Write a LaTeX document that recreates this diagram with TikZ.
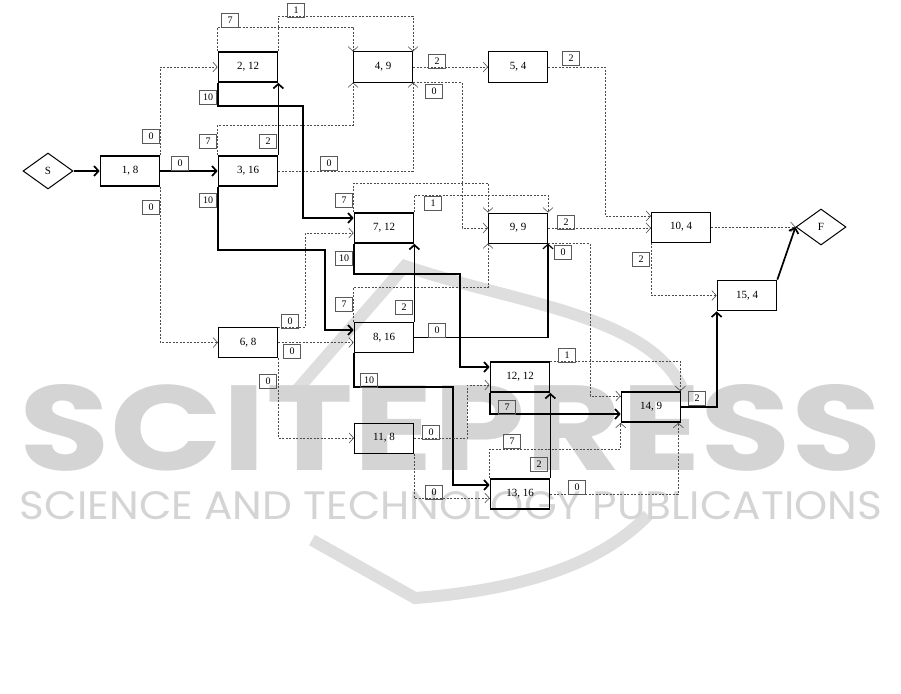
\documentclass[tikz,border=0pt]{standalone}
\usepackage{fontspec}
\usepackage{graphicx}
\setmainfont{Liberation Serif}
\newfontfamily\wmfont{Poppins}
\usetikzlibrary{arrows.meta,shapes.geometric,calc}
\begin{document}
\begin{tikzpicture}[x=1pt,y=-1pt,
  box/.style={draw, line width=1pt, minimum width=59pt, minimum height=30pt, inner sep=0pt, font=\fontsize{11}{11}\selectfont},
  cbox/.style={box, line width=1.7pt},
  dia/.style={draw, diamond, line width=1pt, minimum width=50pt, minimum height=36pt, inner sep=0pt, font=\fontsize{11}{11}\selectfont},
  lbl/.style={draw=black!65, line width=0.6pt, minimum width=17pt, minimum height=14pt, inner sep=0pt, font=\fontsize{10}{10}\selectfont},
  dsh/.style={draw=black!70, line width=0.6pt, dash pattern=on 2pt off 1.5pt, -{Straight Barb[length=4.5pt,width=10pt]}},
  crit/.style={draw=black, line width=1.7pt, -{Straight Barb[length=4.5pt,width=10pt]}},
  wm/.style={text=black!17, inner sep=0pt}
]
\useasboundingbox (0,0) rectangle (901,693);
% watermark
\draw[black!13, line width=12pt] (290,398) -- (405,266) .. controls (520,305) and (655,315) .. (685,395);
\draw[black!13, line width=12pt] (312,540) -- (415,598) .. controls (520,590) and (600,565) .. (648,515);
\node[wm] (wma) at (451,428) {\resizebox{862pt}{86pt}{\wmfont\bfseries SCITEPRESS}};
\node[wm] (wmb) at (451,506) {\resizebox{862pt}{28pt}{\wmfont SCIENCE AND TECHNOLOGY PUBLICATIONS}};

% nodes
\node[dia] (S) at (48,171) {S};
\node[cbox] (n1) at (130,171) {1, 8};
\node[cbox] (n2) at (248,67) {2, 12};
\node[cbox] (n3) at (248,171) {3, 16};
\node[box] (n4) at (383,67) {4, 9};
\node[box] (n5) at (518,67) {5, 4};
\node[box] (n6) at (248,342.5) {6, 8};
\node[cbox] (n7) at (384,228) {7, 12};
\node[cbox] (n8) at (384,337.5) {8, 16};
\node[box] (n9) at (518,228) {9, 9};
\node[box] (n10) at (681,227) {10, 4};
\node[box] (n11) at (384,438) {11, 8};
\node[cbox] (n12) at (520,377) {12, 12};
\node[cbox] (n13) at (520,494) {13, 16};
\node[cbox] (n14) at (651,407) {14, 9};
\node[cbox] (n15) at (747,295.5) {15, 4};
\node[dia] (F) at (821,227) {F};

% connectors
\draw[crit] (S) -- (n1);
\draw[crit] (n1) -- (n3);
\draw[dsh] (n1.north east) |- (n2.west);
\draw[dsh] (n1.south east) |- (n6.west);
\draw[dsh] (n2.north west) |- (n4.north west |- 0,27) -- (n4.north west);
\draw[dsh] (n2.north east) |- (n4.north east |- 0,16) -- (n4.north east);
\draw[dsh] (n3.north west) |- (n4.south west |- 0,125) -- (n4.south west);
\draw[dsh] (n3.east) -| (n4.south east);
\draw[crit] (n3.north east) -- (n2.south east);
\draw[crit] (n2.south west) |- (303,106) |- (n7.west |- 0,218);
\draw[crit] (n3.south west) |- (325,250) |- (n8.west |- 0,330);
\draw[dsh] (n4.east) -- (n5.west);
\draw[dsh] (n4.south east) -| (462,228) -- (n9.west);
\draw[dsh] (n5.east) -| (605,216) -- (n10.west |- 0,216);
\draw[dsh] (n7.north west) |- (n9.north west |- 0,183) -- (n9.north west);
\draw[dsh] (n7.north east) |- (n9.north east |- 0,195) -- (n9.north east);
\draw[dsh] (n8.north west) |- (n9.south west |- 0,287) -- (n9.south west);
\draw[draw=black, line width=1.2pt, -{Straight Barb[length=4.5pt,width=10pt]}] (n8.east) -| (n9.south east);
\draw[crit] (n8.north east) -- (n7.south east);
\draw[dsh] (n9.east) -- (n10.west |- n9.east);
\draw[dsh] (n9.south east) -| (590,396) -- (n14.west |- 0,396);
\draw[dsh] (n10.east) -- (F.west);
\draw[dsh] (n10.south west) |- (n15.west);
\draw[crit] (n15.north east) -- (F.west);
\draw[crit] (n14.east) -| (n15.south west);
\draw[dsh] (n6.north east) -| (305,233) -- (n7.west |- 0,233);
\draw[dsh] (n6.east) -- (n8.west |- n6.east);
\draw[dsh] (n6.south east) |- (n11.west);
\draw[crit] (n7.south west) |- (460,274) |- (n12.west |- 0,367);
\draw[crit] (n8.south west) |- (453,387) |- (n13.west |- 0,485);
\draw[dsh] (n11.east) -| (467,385) -- (n12.west |- 0,385);
\draw[dsh] (n11.south east) |- (n13.west |- 0,498);
\draw[dsh] (n12.north east) -| ([xshift=-1pt]n14.north east);
\draw[crit] (n12.south west) |- (n14.west |- 0,414);
\draw[crit] (n13.north east) -- (n12.south east);
\draw[dsh] (n13.north west) |- (n14.south west |- 0,449) -- (n14.south west);
\draw[dsh] (n13.east) -| ([xshift=-3pt]n14.south east);

% labels
\node[lbl] (l01) at (180,163) {0};
\node[lbl] (l02) at (151,136) {0};
\node[lbl] (l03) at (151,207) {0};
\node[lbl] (l04) at (230,20) {7};
\node[lbl] (l05) at (296,10) {1};
\node[lbl] (l06) at (208,97) {10};
\node[lbl] (l07) at (208,141) {7};
\node[lbl] (l08) at (268,141) {2};
\node[lbl] (l09) at (208,200) {10};
\node[lbl] (l10) at (329,163) {0};
\node[lbl] (l11) at (437,61) {2};
\node[lbl] (l12) at (434,91) {0};
\node[lbl] (l13) at (571,58) {2};
\node[lbl] (l14) at (344,200) {7};
\node[lbl] (l15) at (433,203) {1};
\node[lbl] (l16) at (344,258) {10};
\node[lbl] (l17) at (344,304) {7};
\node[lbl] (l18) at (404,307) {2};
\node[lbl] (l19) at (437,330) {0};
\node[lbl] (l20) at (566,222) {2};
\node[lbl] (l21) at (563,252) {0};
\node[lbl] (l22) at (290,321) {0};
\node[lbl] (l23) at (292,351) {0};
\node[lbl] (l24) at (268,381) {0};
\node[lbl] (l25) at (369,380) {10};
\node[lbl] (l26) at (431,432) {0};
\node[lbl] (l27) at (434,492) {0};
\node[lbl] (l28) at (567,355) {1};
\node[lbl] (l29) at (507,407) {7};
\node[lbl] (l30) at (512,441) {7};
\node[lbl] (l31) at (539,464) {2};
\node[lbl] (l32) at (577,487) {0};
\node[lbl] (l33) at (697,398) {2};
\node[lbl] (l34) at (641,259) {2};
\end{tikzpicture}
\end{document}
